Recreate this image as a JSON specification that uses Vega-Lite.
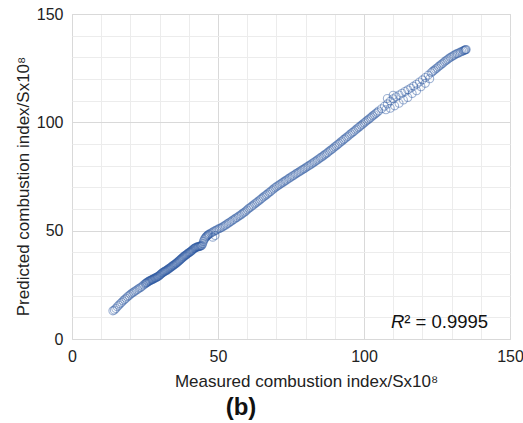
{
  "$schema": "https://vega.github.io/schema/vega-lite/v6.json",
  "width": 438,
  "height": 325,
  "autosize": "none",
  "padding": {"left": 72, "top": 14, "right": 13, "bottom": 84},
  "background": "white",
  "config": {
    "font": "Liberation Sans",
    "view": {"stroke": "#d6d6d6", "strokeWidth": 1}
  },
  "title": {
    "text": "(b)",
    "orient": "bottom",
    "anchor": "middle",
    "dx": -50,
    "offset": 7,
    "fontSize": 24,
    "fontWeight": "bold",
    "color": "#111"
  },
  "resolve": {"axis": {"x": "independent", "y": "independent"}},
  "layer": [
    {
      "data": {
        "values": "x,y\n14.0,13.0\n14.5,13.4\n15.0,14.1\n15.5,14.9\n16.0,15.6\n16.5,16.3\n17.0,16.9\n17.5,17.6\n18.0,18.2\n18.5,18.8\n19.0,19.5\n19.5,20.0\n20.0,20.6\n20.5,21.1\n21.0,21.6\n21.5,22.0\n22.0,22.5\n22.5,22.9\n23.0,23.4\n23.5,23.8\n24.0,24.3\n24.5,24.9\n25.0,25.4\n25.25,25.7\n25.5,25.9\n25.75,26.1\n26.0,26.4\n26.25,26.6\n26.5,26.8\n26.75,27.0\n27.0,27.1\n27.25,27.3\n27.5,27.5\n27.75,27.6\n28.0,27.8\n28.25,28.0\n28.5,28.2\n28.75,28.3\n29.0,28.5\n29.25,28.7\n29.5,28.9\n29.75,29.1\n30.0,29.4\n30.25,29.7\n30.5,30.0\n30.75,30.3\n31.0,30.6\n31.25,30.8\n31.5,31.0\n31.75,31.2\n32.0,31.4\n32.25,31.6\n32.5,31.8\n32.75,32.0\n33.0,32.3\n33.25,32.5\n33.5,32.8\n33.75,33.0\n34.0,33.3\n34.25,33.5\n34.5,33.8\n34.75,34.0\n35.0,34.3\n35.25,34.5\n35.5,34.8\n35.75,35.0\n36.0,35.3\n36.25,35.6\n36.5,35.9\n36.75,36.2\n37.0,36.5\n37.25,36.8\n37.5,37.1\n37.75,37.4\n38.0,37.7\n38.25,38.0\n38.5,38.3\n38.75,38.5\n39.0,38.8\n39.25,39.0\n39.5,39.3\n39.75,39.6\n40.0,39.8\n40.25,40.0\n40.5,40.2\n40.75,40.5\n41.0,40.8\n41.25,41.1\n41.5,41.4\n41.75,41.7\n42.0,41.9\n42.25,42.1\n42.5,42.3\n42.75,42.4\n43.0,42.5\n43.25,42.6\n43.5,42.7\n43.75,42.8\n44.0,42.9\n44.25,43.0\n44.5,43.3\n44.75,44.0\n45.0,45.0\n45.25,45.8\n45.5,46.4\n45.75,46.9\n46.0,47.3\n46.25,47.6\n46.5,47.9\n46.75,48.2\n47.0,48.4\n47.5,48.8\n48.0,49.2\n48.2,47.0\n48.5,49.6\n49.0,50.0\n49.0,47.8\n49.5,50.3\n50.0,50.7\n50.5,51.0\n51.0,51.3\n51.5,51.7\n52.0,52.1\n52.5,52.5\n53.0,53.0\n53.5,53.4\n54.0,53.9\n54.5,54.3\n55.0,54.8\n55.5,55.2\n56.0,55.7\n56.5,56.1\n57.0,56.6\n57.5,57.0\n58.0,57.5\n58.5,58.0\n59.0,58.5\n59.5,59.0\n60,59.6\n60.5,60.2\n61,60.7\n61.5,61.2\n62,61.7\n62.5,62.3\n63,62.8\n63.5,63.3\n64,63.8\n64.5,64.4\n65,64.9\n65.5,65.5\n66,66.0\n66.5,66.5\n67,67.0\n67.5,67.6\n68,68.1\n68.5,68.7\n69,69.2\n69.5,69.8\n70,70.3\n70.5,70.7\n71,71.2\n71.5,71.6\n72,72.1\n72.5,72.5\n73,73.0\n73.5,73.4\n74,73.9\n74.5,74.3\n75,74.8\n75.5,75.2\n76,75.6\n76.5,76.1\n77,76.5\n77.5,76.9\n78,77.3\n78.5,77.8\n79,78.2\n79.5,78.6\n80,79.0\n80.5,79.5\n81,79.9\n81.5,80.3\n82,80.8\n82.5,81.2\n83,81.7\n83.5,82.1\n84,82.6\n84.5,83.1\n85,83.6\n85.5,84.0\n86,84.5\n86.5,85.0\n87,85.5\n87.5,86.0\n88,86.6\n88.5,87.1\n89,87.6\n89.5,88.1\n90,88.7\n90.5,89.2\n91,89.8\n91.5,90.3\n92,90.9\n92.5,91.4\n93,92.0\n93.5,92.5\n94,93.1\n94.5,93.6\n95,94.2\n95.5,94.7\n96,95.3\n96.5,95.8\n97,96.4\n97.5,96.9\n98,97.5\n98.5,98.0\n99,98.6\n99.5,99.1\n100,99.7\n100.5,100.2\n101,100.8\n101.5,101.3\n102,101.9\n102.5,102.4\n103,103.0\n103.5,103.5\n104,104.1\n104.5,104.6\n105,105.2\n106,106.3\n107,107.4\n107.5,105.8\n108,108.5\n108,111.0\n109,109.8\n109,106.5\n110,110.9\n110,112.5\n110.5,107.6\n111,111.8\n112,112.6\n112,108.8\n113,113.4\n113.5,110.3\n114,114.2\n115,115.0\n115,111.5\n116,115.8\n116.5,113.3\n117,116.7\n118,117.6\n118,114.6\n119,118.6\n119.5,116.4\n120,119.6\n121,120.7\n121,118.0\n122,121.8\n122.5,120.1\n123,122.9\n123.5,123.5\n124,124.0\n124.5,124.6\n125,125.1\n125.5,125.7\n126,126.2\n126.5,126.8\n127,127.3\n127.5,127.9\n128,128.4\n128.5,128.9\n129,129.4\n129.5,129.9\n130,130.3\n130.5,130.7\n131,131.1\n131.5,131.5\n132,131.8\n132.5,132.1\n133,132.4\n133.5,132.7\n134,133.0\n134.3,133.2\n134.6,133.4\n134.8,133.5\n135,133.6",
        "format": {"type": "csv", "parse": {"x": "number", "y": "number"}}
      },
      "mark": {"type": "point", "filled": false, "size": 64, "strokeWidth": 1.1, "color": "#2b57a0", "opacity": 0.45},
      "encoding": {
        "x": {
          "field": "x",
          "type": "quantitative",
          "scale": {"domain": [0, 150], "nice": false, "zero": false},
          "axis": {
            "orient": "top",
            "title": null,
            "values": [10, 20, 30, 40, 60, 70, 80, 90, 110, 120, 130, 140],
            "labels": false,
            "ticks": false,
            "domain": false,
            "gridColor": "#ececec",
            "gridWidth": 1
          }
        },
        "y": {
          "field": "y",
          "type": "quantitative",
          "scale": {"domain": [0, 150], "nice": false, "zero": false},
          "axis": {
            "orient": "right",
            "title": null,
            "values": [10, 20, 30, 40, 60, 70, 80, 90, 110, 120, 130, 140],
            "labels": false,
            "ticks": false,
            "domain": false,
            "gridColor": "#ececec",
            "gridWidth": 1
          }
        }
      }
    },
    {
      "data": {"values": [{"label": "R"}]},
      "mark": {"type": "text", "fontStyle": "italic", "fontSize": 18.5, "align": "right", "baseline": "alphabetic", "color": "#111"},
      "encoding": {
        "text": {"field": "label"},
        "x": {
          "datum": 113.8,
          "type": "quantitative",
          "axis": {
            "orient": "bottom",
            "title": "Measured combustion index/Sx10⁸",
            "values": [0, 50, 100, 150],
            "labelOverlap": false,
            "gridColor": "#d9d9d9",
            "gridWidth": 1,
            "grid": true,
            "ticks": false,
            "domain": false,
            "labelFontSize": 16,
            "labelColor": "#222",
            "labelPadding": 9,
            "labelFlush": false,
            "titleFontSize": 17,
            "titleFontWeight": "normal",
            "titleColor": "#222",
            "titlePadding": 9,
            "titleX": 234
          }
        },
        "y": {
          "datum": 5.2,
          "type": "quantitative",
          "axis": {
            "orient": "left",
            "title": "Predicted combustion index/Sx10⁸",
            "values": [0, 50, 100, 150],
            "labelOverlap": false,
            "gridColor": "#d9d9d9",
            "gridWidth": 1,
            "grid": true,
            "ticks": false,
            "domain": false,
            "labelFontSize": 16,
            "labelColor": "#222",
            "labelPadding": 9,
            "labelFlush": false,
            "titleFontSize": 17,
            "titleFontWeight": "normal",
            "titleColor": "#222",
            "titlePadding": 4,
            "titleY": 172
          }
        }
      }
    },
    {
      "data": {"values": [{"label": "² = 0.9995"}]},
      "mark": {"type": "text", "fontSize": 18.5, "align": "left", "baseline": "alphabetic", "color": "#111"},
      "encoding": {
        "text": {"field": "label"},
        "x": {"datum": 113.8, "type": "quantitative", "axis": null},
        "y": {"datum": 5.2, "type": "quantitative", "axis": null}
      }
    }
  ]
}
